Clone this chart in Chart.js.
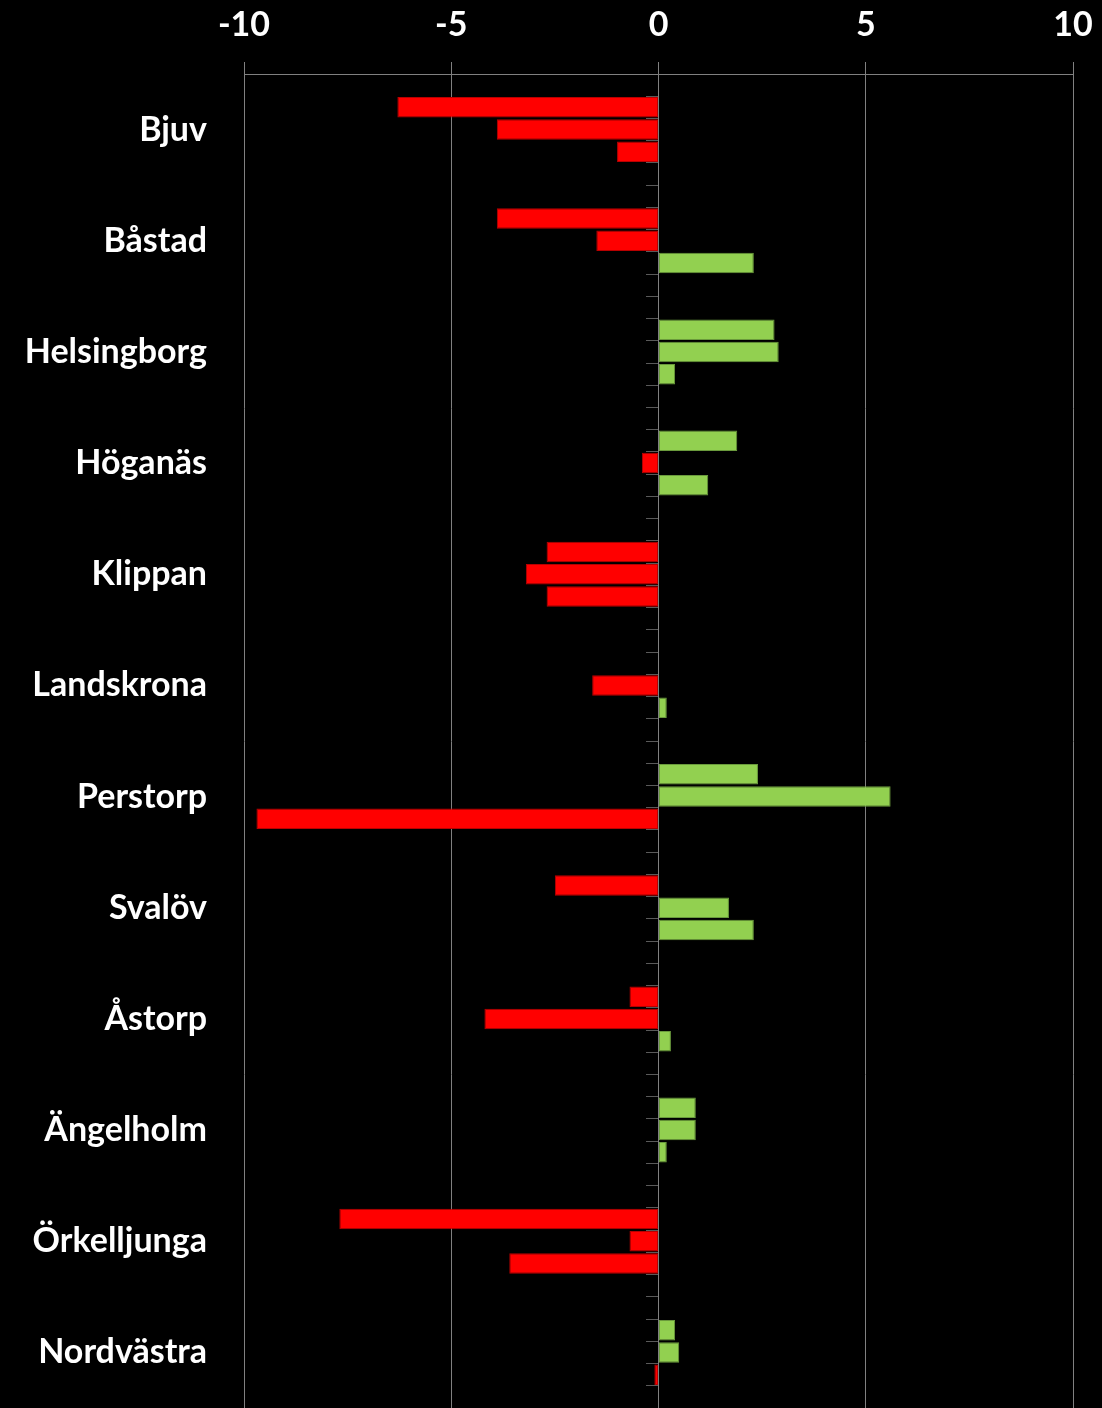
<!DOCTYPE html>
<html lang="sv">
<head>
  <meta charset="UTF-8">
  <title>Förändring per kommun</title>
  <script src="https://cdn.jsdelivr.net/npm/chart.js"></script>
  <style>
    html, body { margin: 0; padding: 0; background: #000; }
    .wrap { width: 1102px; height: 1408px; }
  </style>
</head>
<body>
  <div class="wrap">
    <canvas id="chart" width="1102" height="1408"></canvas>
  </div>
  <script>
    const kommuner = ['Bjuv', 'Båstad', 'Helsingborg', 'Höganäs', 'Klippan', 'Landskrona',
      'Perstorp', 'Svalöv', 'Åstorp', 'Ängelholm', 'Örkelljunga', 'Nordvästra'];
    const serie1 = [-6.3, -3.9, 2.8, 1.9, -2.7, null, 2.4, -2.5, -0.7, 0.9, -7.7, 0.4];
    const serie2 = [-3.9, -1.5, 2.9, -0.4, -3.2, -1.6, 5.6, 1.7, -4.2, 0.9, -0.7, 0.5];
    const serie3 = [-1.0, 2.3, 0.4, 1.2, -2.7, 0.2, -9.7, 2.3, 0.3, 0.2, -3.6, -0.1];
    const xTicks = [-10, -5, 0, 5, 10];

    const rod = '#ff0000', rodKant = '#b80000';
    const gron = '#92d050', gronKant = '#6a9a3c';
    const gra = '#808080';
    const textFont = { family: 'Lato', size: 34, weight: 'bold' };

    // skalorna ska inte lägga till egen utfyllnad runt diagramytan
    function nollaPadding(s) {
      s.paddingTop = s.paddingBottom = s.paddingLeft = s.paddingRight = 0;
    }

    function serie(data) {
      return {
        data: data,
        backgroundColor: c => (c.raw < 0 ? rod : gron),
        borderColor: c => (c.raw < 0 ? rodKant : gronKant),
        borderWidth: 1,
        borderSkipped: false,
        categoryPercentage: 0.6,
        barPercentage: 0.92
      };
    }

    new Chart(document.getElementById('chart'), {
      type: 'bar',
      data: {
        labels: kommuner,
        datasets: [serie(serie1), serie(serie2), serie(serie3)]
      },
      options: {
        indexAxis: 'y',
        responsive: false,
        animation: false,
        layout: { padding: { left: 0, right: 29, top: 0, bottom: 0 } },
        plugins: { legend: { display: false }, tooltip: { enabled: false } },
        scales: {
          x: {
            position: 'top',
            min: -10,
            max: 10,
            afterBuildTicks: s => { s.ticks = xTicks.map(v => ({ value: v })); },
            afterFit: s => { s.height = 74; nollaPadding(s); },
            grid: { color: gra, lineWidth: 1, drawTicks: true, tickLength: 12, tickColor: gra },
            border: { color: gra, width: 1 },
            ticks: { color: '#fff', font: textFont, padding: 17, maxRotation: 0 }
          },
          y: {
            position: 'left',
            afterFit: s => { s.width = 244; nollaPadding(s); },
            grid: { display: false, drawTicks: false },
            border: { display: false },
            ticks: { color: '#fff', font: textFont, padding: 37, autoSkip: false }
          },
          fack: {
            type: 'linear',
            axis: 'y',
            position: { x: 0 },
            offset: false,
            min: 0,
            max: kommuner.length * 5,
            afterFit: nollaPadding,
            ticks: { stepSize: 1, display: false, autoSkip: false },
            grid: { offset: false, drawOnChartArea: false, drawTicks: true, tickLength: 12, tickColor: '#5a5a5a' },
            border: { color: gra, width: 1 }
          }
        }
      }
    });
  </script>
</body>
</html>
